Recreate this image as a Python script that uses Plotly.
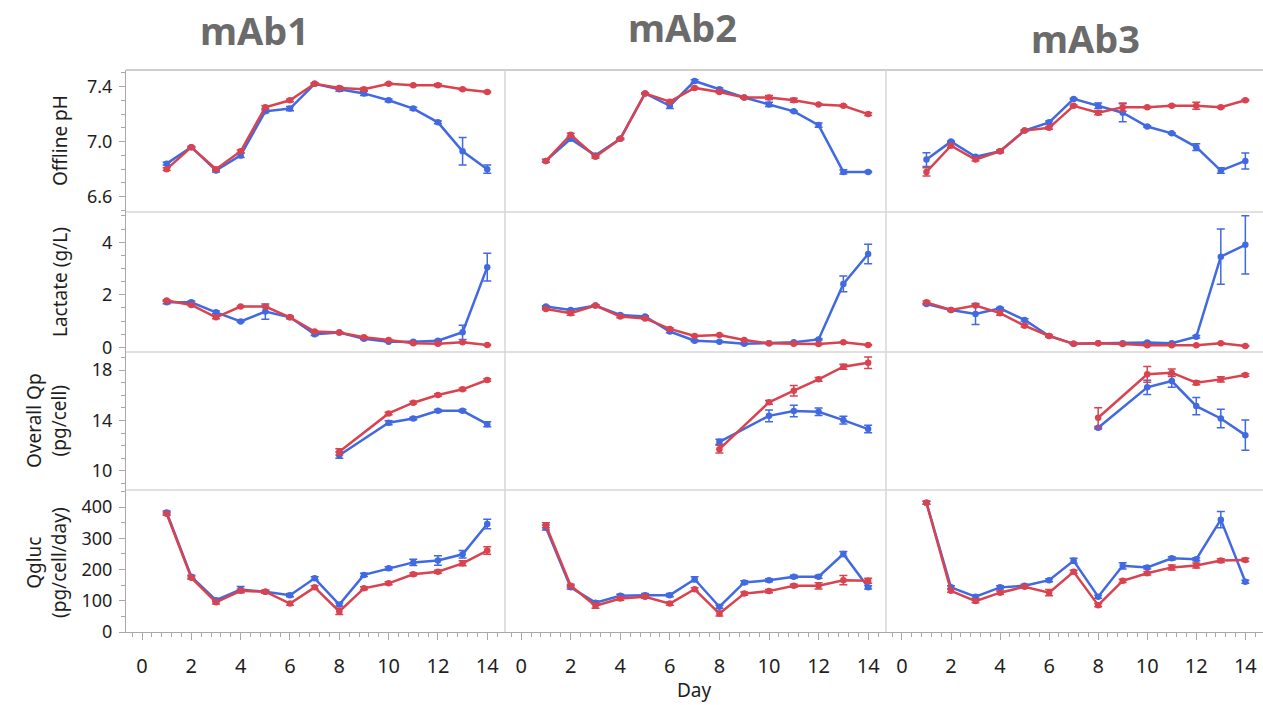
import plotly.graph_objects as go

# ---------------- data ----------------
DAYS = [1, 2, 3, 4, 5, 6, 7, 8, 9, 10, 11, 12, 13, 14]
QP_DAYS = [8, 10, 11, 12, 13, 14]
MABS = ["mAb1", "mAb2", "mAb3"]
ROW_TITLES = ["Offline pH", "Lactate (g/L)", "Overall Qp<br>(pg/cell)", "Qgluc<br>(pg/cell/day)"]
X_TICKS = [0, 2, 4, 6, 8, 10, 12, 14]

PH_MAB1_BLUE = [6.84, 6.96, 6.79, 6.90, 7.22, 7.24, 7.42, 7.38, 7.35, 7.30, 7.24, 7.14, 6.93, 6.80]
PH_MAB1_RED = [6.80, 6.96, 6.80, 6.93, 7.25, 7.30, 7.42, 7.39, 7.38, 7.42, 7.41, 7.41, 7.38, 7.36]
PH_MAB2_BLUE = [6.86, 7.02, 6.90, 7.02, 7.35, 7.26, 7.44, 7.38, 7.32, 7.27, 7.22, 7.12, 6.78, 6.78]
PH_MAB2_RED = [6.86, 7.05, 6.89, 7.02, 7.35, 7.29, 7.39, 7.36, 7.32, 7.32, 7.30, 7.27, 7.26, 7.20]
PH_MAB3_BLUE = [6.87, 7.00, 6.89, 6.93, 7.08, 7.14, 7.31, 7.26, 7.21, 7.11, 7.06, 6.96, 6.79, 6.86]
PH_MAB3_RED = [6.78, 6.97, 6.87, 6.93, 7.08, 7.10, 7.26, 7.21, 7.25, 7.25, 7.26, 7.26, 7.25, 7.30]
PH_MAB1_BLUE_ERR = [0.01, 0.005, 0.01, 0.015, 0.01, 0.015, 0.005, 0.015, 0.015, 0.01, 0.01, 0.01, 0.10, 0.03]
PH_MAB1_RED_ERR = [0.01, 0.005, 0.01, 0.01, 0.01, 0.01, 0.005, 0.01, 0.01, 0.005, 0.005, 0.01, 0.005, 0.005]
PH_MAB2_BLUE_ERR = [0.01, 0.01, 0.01, 0.005, 0.005, 0.02, 0.01, 0.01, 0.005, 0.015, 0.005, 0.015, 0.015, 0.005]
PH_MAB2_RED_ERR = [0.01, 0.01, 0.01, 0.005, 0.005, 0.005, 0.005, 0.005, 0.005, 0.015, 0.015, 0.005, 0.005, 0.01]
PH_MAB3_BLUE_ERR = [0.05, 0.005, 0.005, 0.01, 0.005, 0.01, 0.005, 0.02, 0.065, 0.005, 0.005, 0.025, 0.02, 0.058]
PH_MAB3_RED_ERR = [0.03, 0.01, 0.01, 0.005, 0.005, 0.01, 0.005, 0.015, 0.03, 0.005, 0.005, 0.025, 0.005, 0.005]

LAC_MAB1_BLUE = [1.71, 1.71, 1.33, 0.98, 1.36, 1.14, 0.50, 0.56, 0.32, 0.21, 0.21, 0.25, 0.57, 3.05]
LAC_MAB1_RED = [1.78, 1.61, 1.14, 1.55, 1.55, 1.14, 0.60, 0.56, 0.38, 0.28, 0.15, 0.13, 0.19, 0.09]
LAC_MAB2_BLUE = [1.55, 1.42, 1.59, 1.23, 1.17, 0.60, 0.25, 0.21, 0.13, 0.15, 0.19, 0.30, 2.41, 3.55]
LAC_MAB2_RED = [1.46, 1.30, 1.59, 1.17, 1.10, 0.70, 0.43, 0.47, 0.28, 0.15, 0.13, 0.12, 0.19, 0.09]
LAC_MAB3_BLUE = [1.65, 1.42, 1.27, 1.48, 1.04, 0.43, 0.13, 0.15, 0.15, 0.18, 0.15, 0.40, 3.45, 3.90]
LAC_MAB3_RED = [1.71, 1.42, 1.59, 1.30, 0.82, 0.43, 0.13, 0.15, 0.12, 0.08, 0.08, 0.08, 0.15, 0.05]
LAC_MAB1_BLUE_ERR = [0.05, 0.05, 0.05, 0.02, 0.29, 0.05, 0.05, 0.02, 0.02, 0.02, 0.02, 0.02, 0.27, 0.53]
LAC_MAB1_RED_ERR = [0.03, 0.03, 0.05, 0.02, 0.02, 0.02, 0.02, 0.02, 0.02, 0.02, 0.02, 0.02, 0.02, 0.02]
LAC_MAB2_BLUE_ERR = [0.03, 0.03, 0.03, 0.03, 0.03, 0.05, 0.03, 0.02, 0.02, 0.02, 0.02, 0.02, 0.30, 0.37]
LAC_MAB2_RED_ERR = [0.03, 0.08, 0.03, 0.05, 0.03, 0.03, 0.02, 0.02, 0.02, 0.02, 0.02, 0.02, 0.02, 0.02]
LAC_MAB3_BLUE_ERR = [0.03, 0.03, 0.40, 0.03, 0.05, 0.03, 0.02, 0.02, 0.02, 0.02, 0.02, 0.05, 1.05, 1.11]
LAC_MAB3_RED_ERR = [0.05, 0.02, 0.03, 0.08, 0.05, 0.03, 0.02, 0.02, 0.02, 0.02, 0.02, 0.02, 0.02, 0.02]

QP_MAB1_BLUE = [11.25, 13.82, 14.16, 14.77, 14.77, 13.71]
QP_MAB1_RED = [11.52, 14.56, 15.41, 16.02, 16.47, 17.21]
QP_MAB2_BLUE = [12.31, 14.37, 14.75, 14.69, 14.03, 13.32]
QP_MAB2_RED = [11.73, 15.44, 16.36, 17.26, 18.26, 18.58]
QP_MAB3_BLUE = [13.42, 16.63, 17.13, 15.14, 14.16, 12.84]
QP_MAB3_RED = [14.22, 17.66, 17.79, 16.99, 17.26, 17.60]
QP_MAB1_BLUE_ERR = [0.25, 0.15, 0.1, 0.1, 0.1, 0.2]
QP_MAB1_RED_ERR = [0.25, 0.1, 0.1, 0.1, 0.1, 0.1]
QP_MAB2_BLUE_ERR = [0.2, 0.46, 0.46, 0.3, 0.3, 0.3]
QP_MAB2_RED_ERR = [0.3, 0.15, 0.42, 0.15, 0.2, 0.45]
QP_MAB3_BLUE_ERR = [0.1, 0.57, 0.5, 0.69, 0.74, 1.19]
QP_MAB3_RED_ERR = [0.79, 0.62, 0.3, 0.15, 0.2, 0.1]

QG_MAB1_BLUE = [383, 177, 102, 136, 129, 118, 172, 88, 183, 204, 223, 229, 249, 346]
QG_MAB1_RED = [379, 174, 95, 132, 129, 91, 143, 66, 140, 156, 185, 193, 220, 261]
QG_MAB2_BLUE = [335, 143, 94, 116, 118, 118, 169, 81, 159, 166, 177, 177, 250, 143]
QG_MAB2_RED = [342, 148, 84, 107, 113, 91, 137, 59, 123, 131, 148, 148, 166, 164]
QG_MAB3_BLUE = [414, 143, 113, 143, 148, 166, 228, 113, 212, 207, 236, 233, 360, 161]
QG_MAB3_RED = [414, 132, 99, 126, 145, 126, 193, 86, 164, 188, 207, 213, 229, 231]
QG_MAB1_BLUE_ERR = [5, 5, 5, 10, 5, 5, 5, 5, 5, 5, 10, 15, 12, 15]
QG_MAB1_RED_ERR = [5, 5, 5, 5, 5, 5, 5, 10, 5, 5, 5, 5, 8, 12]
QG_MAB2_BLUE_ERR = [8, 5, 5, 5, 5, 5, 8, 5, 5, 5, 5, 5, 8, 5]
QG_MAB2_RED_ERR = [8, 5, 8, 5, 5, 5, 5, 8, 5, 5, 5, 10, 15, 8]
QG_MAB3_BLUE_ERR = [5, 5, 5, 5, 5, 5, 8, 5, 10, 5, 5, 5, 26, 5]
QG_MAB3_RED_ERR = [5, 5, 5, 5, 5, 10, 5, 5, 5, 5, 8, 8, 6, 5]

# (x, blue, blue_err, red, red_err) for each row / column
PANELS = [
    [(DAYS, PH_MAB1_BLUE, PH_MAB1_BLUE_ERR, PH_MAB1_RED, PH_MAB1_RED_ERR),
     (DAYS, PH_MAB2_BLUE, PH_MAB2_BLUE_ERR, PH_MAB2_RED, PH_MAB2_RED_ERR),
     (DAYS, PH_MAB3_BLUE, PH_MAB3_BLUE_ERR, PH_MAB3_RED, PH_MAB3_RED_ERR)],
    [(DAYS, LAC_MAB1_BLUE, LAC_MAB1_BLUE_ERR, LAC_MAB1_RED, LAC_MAB1_RED_ERR),
     (DAYS, LAC_MAB2_BLUE, LAC_MAB2_BLUE_ERR, LAC_MAB2_RED, LAC_MAB2_RED_ERR),
     (DAYS, LAC_MAB3_BLUE, LAC_MAB3_BLUE_ERR, LAC_MAB3_RED, LAC_MAB3_RED_ERR)],
    [(QP_DAYS, QP_MAB1_BLUE, QP_MAB1_BLUE_ERR, QP_MAB1_RED, QP_MAB1_RED_ERR),
     (QP_DAYS, QP_MAB2_BLUE, QP_MAB2_BLUE_ERR, QP_MAB2_RED, QP_MAB2_RED_ERR),
     (QP_DAYS, QP_MAB3_BLUE, QP_MAB3_BLUE_ERR, QP_MAB3_RED, QP_MAB3_RED_ERR)],
    [(DAYS, QG_MAB1_BLUE, QG_MAB1_BLUE_ERR, QG_MAB1_RED, QG_MAB1_RED_ERR),
     (DAYS, QG_MAB2_BLUE, QG_MAB2_BLUE_ERR, QG_MAB2_RED, QG_MAB2_RED_ERR),
     (DAYS, QG_MAB3_BLUE, QG_MAB3_BLUE_ERR, QG_MAB3_RED, QG_MAB3_RED_ERR)],
]

# ---------------- styling ----------------
W, H = 1263, 705
ML, MR, MT, MB = 126, 0, 70, 73
PW, PH_ = W - ML - MR, H - MT - MB
X_EDGES = [126, 505, 886, 1263]
Y_EDGES = [70, 212, 352, 490, 632]
BLUE = "#4169E1"
RED = "#D9434F"
FONT = "Noto Sans"
TXT = "#1e1e1e"
FRAME = "#d6d6d6"
AXIS = "#a8a8a8"

Y_RANGES = [[6.489, 7.52], [-0.18, 5.15], [8.49, 19.43], [0, 455]]
Y_DTICK = [0.4, 2, 4, 100]
Y_TICK0 = [6.6, 0, 10, 0]
Y_MINOR = [0.1, 0.5, 1, 50]
Y_FORMAT = [".1f", "d", "d", "d"]
X_RANGE = [-0.65, 14.72]


def px_x(px):
    return (px - ML) / PW


def px_y(py):
    return (MT + PH_ - py) / PH_


fig = go.Figure()
layout = dict(
    width=W, height=H, autosize=False,
    margin=dict(l=ML, r=MR, t=MT, b=MB, pad=0),
    paper_bgcolor="white", plot_bgcolor="white",
    showlegend=False,
    font=dict(family=FONT, size=19, color=TXT),
)

for r in range(4):
    for c in range(3):
        idx = r * 3 + c + 1
        xn = "x" if idx == 1 else f"x{idx}"
        yn = "y" if idx == 1 else f"y{idx}"
        xk = "xaxis" if idx == 1 else f"xaxis{idx}"
        yk = "yaxis" if idx == 1 else f"yaxis{idx}"
        xs, b, be, rd, re_ = PANELS[r][c]
        for vals, errs, col in ((b, be, BLUE), (rd, re_, RED)):
            fig.add_trace(go.Scatter(
                x=xs, y=vals, xaxis=xn, yaxis=yn, mode="lines+markers",
                line=dict(color=col, width=2.5),
                marker=dict(color=col, size=6.5),
                error_y=dict(type="data", array=errs, visible=True, color=col,
                             thickness=1.5, width=4),
                hoverinfo="skip",
            ))
        bottom = r == 3
        left = c == 0
        layout[xk] = dict(
            domain=[px_x(X_EDGES[c]), px_x(X_EDGES[c + 1])],
            anchor=yn, range=X_RANGE, showgrid=False, zeroline=False,
            showline=bottom, linecolor=AXIS, linewidth=1,
            tickmode="array", tickvals=X_TICKS if bottom else [],
            showticklabels=bottom, ticks="outside" if bottom else "",
            ticklen=7, tickcolor=AXIS, tickwidth=1,
            ticklabelstandoff=9,
            tickfont=dict(family=FONT, size=20, color=TXT),
            minor=dict(dtick=0.4, tick0=0, ticks="outside" if bottom else "",
                       ticklen=4, tickcolor=AXIS, showgrid=False),
        )
        layout[yk] = dict(
            domain=[px_y(Y_EDGES[r + 1]), px_y(Y_EDGES[r])],
            anchor=xn, range=Y_RANGES[r], showgrid=False, zeroline=False,
            showline=left, linecolor=AXIS, linewidth=1,
            tickmode="linear", tick0=Y_TICK0[r], dtick=Y_DTICK[r],
            tickformat=Y_FORMAT[r],
            showticklabels=left, ticks="outside" if left else "",
            ticklen=6, tickcolor=AXIS, tickwidth=1,
            ticklabelstandoff=3,
            tickfont=dict(family=FONT, size=18, color=TXT),
            minor=dict(dtick=Y_MINOR[r], tick0=Y_TICK0[r],
                       ticks="outside" if left else "",
                       ticklen=4, tickcolor=AXIS, showgrid=False),
        )

fig.update_layout(**layout)

# frame lines between panels
shapes = []
shapes.append(dict(type="line", xref="paper", yref="paper",
                   x0=0, x1=1, y0=1, y1=1, line=dict(color="#cfcfcf", width=2)))
for xe in X_EDGES[1:3]:
    shapes.append(dict(type="line", xref="paper", yref="paper",
                       x0=px_x(xe), x1=px_x(xe), y0=0, y1=1,
                       line=dict(color=FRAME, width=1.5)))
for ye in Y_EDGES[1:4]:
    shapes.append(dict(type="line", xref="paper", yref="paper",
                       x0=0, x1=1, y0=px_y(ye), y1=px_y(ye),
                       line=dict(color=FRAME, width=1.5)))
fig.update_layout(shapes=shapes)

# annotations
ann = []
TITLE_POS = [(254, 30), (682, 27), (1085, 38)]
for name, (tx, ty) in zip(MABS, TITLE_POS):
    ann.append(dict(text=f"<b>{name}</b>", x=px_x(tx), y=px_y(ty),
                    xref="paper", yref="paper", showarrow=False,
                    xanchor="center", yanchor="middle",
                    font=dict(family=FONT, size=38, color="#6b6b6b")))
ROW_TITLE_POS = [(60, 141), (60, 282), (46, 420), (46, 562)]
for t, (tx, ty) in zip(ROW_TITLES, ROW_TITLE_POS):
    ann.append(dict(text=t, x=px_x(tx), y=px_y(ty), xref="paper", yref="paper",
                    showarrow=False, textangle=-90, xanchor="center",
                    yanchor="middle", align="center",
                    font=dict(family=FONT, size=19, color=TXT)))
ann.append(dict(text="Day", x=px_x(694), y=px_y(690), xref="paper", yref="paper",
                showarrow=False, xanchor="center", yanchor="middle",
                font=dict(family=FONT, size=19, color=TXT)))
fig.update_layout(annotations=ann)

fig.write_html("out.html",
               config={"displayModeBar": False},
               post_script="document.body.style.margin='0px';"
                           "document.body.style.overflow='hidden';")
